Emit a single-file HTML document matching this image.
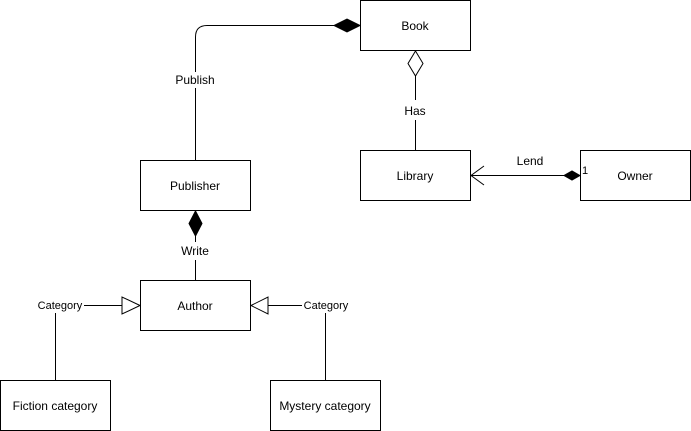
<!DOCTYPE html>
<html><head><style>body{margin:0;background:#fff}svg{display:block}text{font-family:"Liberation Sans",sans-serif;font-size:12px;fill:#000}</style></head><body>
<svg width="691" height="431" viewBox="0 0 691 431">
<g fill="#fff" stroke="#000" stroke-width="1">
<rect x="360.5" y="0.5" width="110" height="50"/>
<rect x="140.5" y="160.5" width="110" height="50"/>
<rect x="360.5" y="150.5" width="110" height="50"/>
<rect x="580.5" y="150.5" width="110" height="50"/>
<rect x="140.5" y="280.5" width="110" height="50"/>
<rect x="0.5" y="380.5" width="110" height="50"/>
<rect x="270.5" y="380.5" width="110" height="50"/>
</g>
<g fill="none" stroke="#000">
<path d="M195.5 160V37Q195.5 25.5 207 25.5H336"/>
<path d="M415.5 76V100M415.5 120V150"/>
<path d="M195.5 236V242M195.5 260V280"/>
<path d="M471 175.5H565"/>
<path d="M484 166L471 175.5L484 185"/>
<path d="M84 305.5H122M55.5 313V380"/>
<path d="M268 305.5H302M325.5 313V380"/>
</g>
<rect x="172" y="72" width="46" height="16" fill="#fff"/>
<path d="M360 25.5L347 19L334 25.5L347 32Z" fill="#000" stroke="#000"/>
<path d="M415.5 51L423 63.5L415.5 76L408 63.5Z" fill="#fff" stroke="#000"/>
<path d="M195.5 211L202 223.5L195.5 236L189 223.5Z" fill="#000" stroke="#000"/>
<path d="M580 175.5L572 171L564 175.5L572 180Z" fill="#000" stroke="#000"/>
<path d="M140 305.5L122 297L122 314Z" fill="#fff" stroke="#000"/>
<path d="M251 305.5L268 297L268 314Z" fill="#fff" stroke="#000"/>
<g text-anchor="middle">
<text x="415" y="30">Book</text>
<text x="195" y="190">Publisher</text>
<text x="415" y="180">Library</text>
<text x="635" y="180">Owner</text>
<text x="195" y="310">Author</text>
<text x="55" y="410">Fiction category</text>
<text x="325" y="410">Mystery category</text>
<text x="195" y="84">Publish</text>
<text x="415" y="115">Has</text>
<text x="195" y="255">Write</text>
<text x="530" y="165">Lend</text>
<text x="60" y="309" style="font-size:11px">Category</text>
<text x="326" y="309" style="font-size:11px">Category</text>
</g>
<text x="582" y="174" style="font-size:11px">1</text>
</svg>
</body></html>
